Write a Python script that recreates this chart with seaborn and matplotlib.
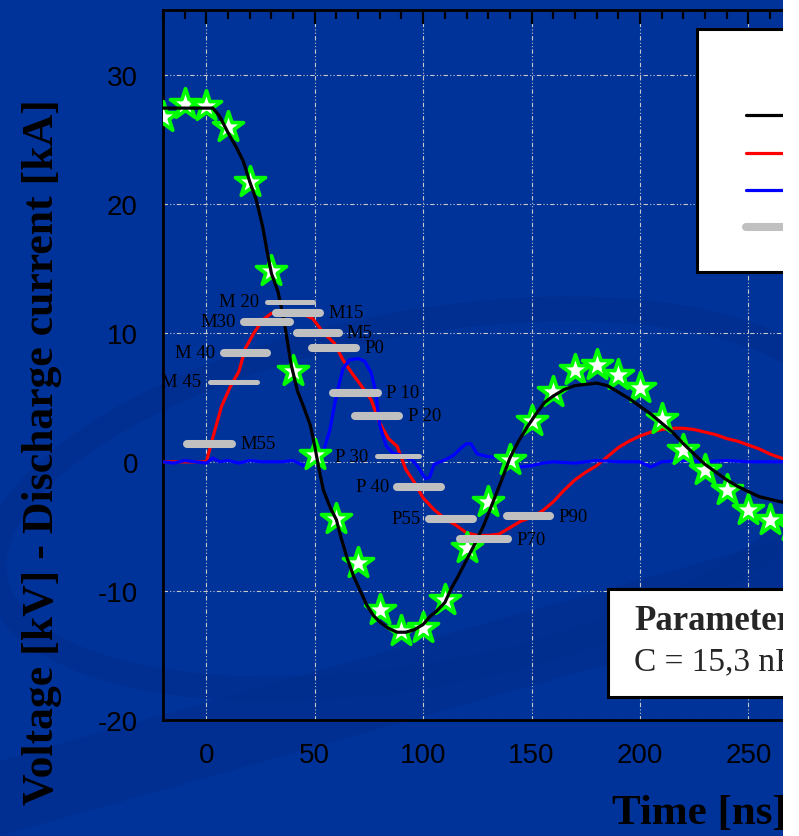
import numpy as np
import pandas as pd
import seaborn as sns
import matplotlib.pyplot as plt
from matplotlib.patches import Rectangle, Ellipse, Polygon
from matplotlib.lines import Line2D
from matplotlib.legend_handler import HandlerLine2D
from matplotlib.ticker import MultipleLocator

BG = "#003399"
BAR_GREY = "#c0c0c0"

# discharge current (black trace)
t_black = [-20, -10, 0, 3, 6, 10, 14, 17, 20, 23, 26, 28, 30, 33, 36, 39, 42, 45, 48,
           50, 52, 54, 57, 60, 62, 65, 68, 71, 74, 77, 80, 84, 88, 92, 96, 100, 103,
           106, 110, 113, 116, 120, 124, 128, 132, 136, 140, 144, 148, 152, 156, 160,
           165, 170, 175, 180, 185, 190, 195, 200, 205, 210, 215, 220, 225, 230, 235,
           240, 245, 250, 255, 260, 265, 270]
i_black = [27.4, 27.4, 27.4, 27.4, 26.8, 25.5, 24.3, 23.3, 21.7, 20.3, 18.2, 16.3, 14.6,
           13.2, 10.8, 7.6, 5.5, 4.2, 2.8, 1.2, -0.6, -2.2, -3.5, -4.5, -5.8, -7.5, -8.9,
           -10.0, -11.1, -11.9, -12.4, -12.9, -13.2, -13.2, -13.0, -12.6, -12.0, -11.6,
           -10.9, -9.8, -8.9, -7.6, -6.3, -4.9, -3.2, -1.5, 0.3, 1.6, 2.7, 3.7, 4.6, 5.1,
           5.6, 5.9, 6.0, 6.1, 5.9, 5.4, 4.9, 4.3, 3.7, 3.0, 2.3, 1.4, 0.6, -0.2, -0.8,
           -1.4, -1.9, -2.3, -2.7, -2.9, -3.1, -3.2]

# voltage (red trace)
t_red = [-20, -10, 0, 3, 7, 11, 15, 18, 22, 26, 30, 35, 40, 45, 49, 54, 59, 63, 67, 71,
         76, 80, 84, 88, 92, 96, 100, 105, 110, 115, 120, 125, 130, 135, 140, 145, 150,
         155, 160, 165, 170, 175, 180, 185, 190, 195, 200, 205, 210, 215, 220, 225, 230,
         235, 240, 245, 250, 255, 260, 265, 270]
u_red = [0, 0, 0, 1.9, 4.3, 5.8, 7.0, 8.8, 10.0, 11.0, 11.5, 11.6, 11.5, 11.4, 11.1,
         10.0, 9.2, 7.9, 6.9, 6.0, 4.8, 3.0, 1.8, 1.2, -0.6, -1.6, -2.8, -3.7, -4.4,
         -4.9, -5.5, -5.7, -5.7, -5.6, -5.1, -4.6, -4.3, -3.8, -3.1, -2.2, -1.4, -0.8,
         -0.3, 0.4, 1.1, 1.6, 2.0, 2.3, 2.5, 2.6, 2.6, 2.5, 2.3, 2.1, 1.8, 1.6, 1.3,
         1.0, 0.6, 0.3, 0.0]

# blue trace
t_blue = [-20, -15, -10, -5, 0, 3, 6, 10, 15, 20, 25, 30, 35, 40, 45, 48, 51, 54, 57,
          60, 63, 66, 70, 73, 76, 78, 80, 83, 86, 90, 95, 98, 101, 103, 105, 110, 114,
          117, 120, 122, 125, 130, 136, 140, 144, 150, 155, 160, 170, 180, 190, 200,
          205, 210, 220, 230, 240, 250, 260, 270]
u_blue = [0, -0.1, 0.1, 0, -0.1, 0.3, 0, 0.1, -0.1, 0.1, 0, 0, 0, 0.1, -0.3, 0, 0.3,
          0.8, 2.5, 5.2, 7.2, 7.9, 8.0, 7.8, 6.9, 5.5, 2.8, 1.2, 0.7, 0.5, 0.15, -0.5,
          -1.3, -1.2, -0.2, 0.15, 0.5, 1.0, 1.4, 1.4, 0.6, 0.4, 0.3, 0.15, -0.4, -0.3,
          -0.1, 0, -0.1, 0.1, 0, 0, -0.4, 0, 0.1, 0, 0.1, 0, 0, 0]

# star markers
t_star = [-20, -10, 0, 10, 20, 30, 40, 50, 60, 70, 80, 90, 100, 110, 120, 130, 140,
          150, 160, 170, 180, 190, 200, 210, 220, 230, 240, 250, 260, 270]
v_star = [26.7, 27.75, 27.6, 25.9, 21.7, 14.8, 7.0, 0.5, -4.4, -7.8, -11.5, -13.1,
          -12.9, -10.7, -6.7, -3.1, 0.15, 3.2, 5.4, 7.1, 7.5, 6.7, 5.7, 3.3, 0.9, -0.6,
          -2.2, -3.7, -4.5, -5.0]

# grey time windows
bar_names = ["M 20", "M15", "M30", "M5", "P0", "M 40", "M 45", "P 10", "P 20", "M55",
             "P 30", "P 40", "P55", "P90", "P70"]
bar_start = [28, 32, 17.5, 42, 48.5, 8, 1.5, 58.5, 68.5, -9, 78.5, 88, 102.5, 138.5, 117]
bar_end = [49, 52.5, 38.5, 61, 69, 28, 23.5, 79, 89, 12, 98, 108, 123, 158.5, 139]
bar_level = [12.4, 11.55, 10.85, 10.0, 8.85, 8.45, 6.2, 5.35, 3.55, 1.4, 0.45, -1.95,
             -4.4, -4.2, -6.0]
bar_side = ["left", "right", "left", "right", "right", "left", "left", "right", "right",
            "right", "left", "left", "left", "right", "right"]
thin_bars = {"M 20", "M 45", "P 30"}

legend_labels = ["Current [kA]", "Voltage [kV]", "Induced voltage [kV]", "Time window"]

sns.set_theme(style="white")
plt.rcParams["font.family"] = ["Liberation Sans", "DejaVu Sans"]
plt.rcParams["axes.unicode_minus"] = False

fig = plt.figure(figsize=(7.99, 8.37), dpi=100)
fig.patch.set_facecolor(BG)

# faint background swooshes
fig.add_artist(Ellipse((420 / 799, 1 - 500 / 837), 1.08, 0.42, angle=10,
                       transform=fig.transFigure, fill=False, ec="#002d8c",
                       lw=18, alpha=0.6, zorder=-5))
fig.add_artist(Polygon([(0, 0.0), (0, 0.09), (1, 0.36), (1, 0.27)],
                       transform=fig.transFigure, closed=True, fc="#002e8f",
                       ec="none", alpha=0.7, zorder=-5))

ax = fig.add_axes([163 / 799, 116 / 837, 693.8 / 799, 710 / 837])
ax.set_facecolor("none")

sns.lineplot(x=t_red, y=u_red, color="red", lw=2.3, estimator=None, ax=ax, zorder=3)
sns.lineplot(x=t_blue, y=u_blue, color="blue", lw=2.3, estimator=None, ax=ax, zorder=3)
sns.scatterplot(x=t_star, y=v_star, marker="*", s=520, color="white",
                edgecolor="#00ff00", linewidth=2.6, ax=ax, zorder=4)
sns.lineplot(x=t_black, y=i_black, color="black", lw=2.3, estimator=None, ax=ax, zorder=5)

for name, s, e, lvl, side in zip(bar_names, bar_start, bar_end, bar_level, bar_side):
    lw = 3.6 if name in thin_bars else 5.8
    ax.plot([s, e], [lvl, lvl], color=BAR_GREY, lw=lw, solid_capstyle="round", zorder=6)
    if side == "left":
        ax.annotate(name, xy=(s, lvl), xytext=(-6, 0), textcoords="offset points",
                    ha="right", va="center", fontsize=13.5, family="Liberation Serif",
                    color="black", zorder=7)
    else:
        ax.annotate(name, xy=(e, lvl), xytext=(6, 0), textcoords="offset points",
                    ha="left", va="center", fontsize=13.5, family="Liberation Serif",
                    color="black", zorder=7)

ax.set_xlim(-20, 300)
ax.set_ylim(-20, 35)
ax.set_xticks(range(0, 251, 50))
ax.set_yticks(range(-20, 31, 10))
ax.xaxis.set_minor_locator(MultipleLocator(10))
ax.yaxis.set_minor_locator(MultipleLocator(2))
ax.tick_params(which="both", direction="in", top=True, right=True, color="black",
               width=1.6, labelcolor="black", labelsize=20)
ax.tick_params(which="major", length=10)
ax.tick_params(which="minor", length=6.5)
ax.tick_params(axis="y", pad=18)
ax.tick_params(axis="x", pad=16)
for sp in ax.spines.values():
    sp.set_color("black")
    sp.set_linewidth(2)
ax.set_axisbelow(True)
ax.grid(True, which="major", color="#c8c8c8", lw=0.8, ls=(0, (4, 2, 1, 2, 1, 2)))

ax.set_ylabel("Voltage [kV] - Discharge current [kA]", family="Liberation Serif",
              fontweight="bold", fontsize=31.5, color="black", va="center")
ax.yaxis.set_label_coords(-0.175, 0.379)
ax.set_xlabel("Time [ns]", family="Liberation Serif", fontweight="bold", fontsize=31,
              color="black", ha="left", va="center")
ax.xaxis.set_label_coords(0.647, -0.131)

handles = [Line2D([], [], color="black", lw=2.3),
           Line2D([], [], color="red", lw=2.3),
           Line2D([], [], color="blue", lw=2.3),
           Line2D([], [], color=BAR_GREY, lw=5.8, solid_capstyle="round")]
leg = ax.legend(handles, legend_labels, loc="upper left",
                bbox_to_anchor=(697 / 799, 1 - 30 / 837), bbox_transform=fig.transFigure,
                borderaxespad=0, frameon=True, fancybox=False, edgecolor="black",
                facecolor="white", framealpha=1, fontsize=20, title=" ",
                title_fontsize=20, borderpad=1.05, labelspacing=0.41, handlelength=2.6,
                handler_map={Line2D: HandlerLine2D(xpad=0.7)})
leg.get_frame().set_linewidth(2.2)
leg._legend_box.sep = 15

# parameter box
fig.add_artist(Rectangle((608 / 799, 1 - 698 / 837), 0.4, 108 / 837,
                         transform=fig.transFigure, fc="white", ec="black", lw=2.2,
                         zorder=50))
fig.text(634 / 799, 1 - 622 / 837, "Parameters:", family="Liberation Serif",
         fontweight="bold", fontsize=25, va="center", ha="left", zorder=51)
fig.text(634 / 799, 1 - 662 / 837, "C = 15,3 nF", family="Liberation Serif",
         fontsize=24, va="center", ha="left", zorder=51)

# white strip on the right edge
fig.add_artist(Rectangle((783 / 799, 0), 1, 1, transform=fig.transFigure,
                         fc="white", ec="none", zorder=100))

fig.savefig("out.png", dpi=100, facecolor=BG)
